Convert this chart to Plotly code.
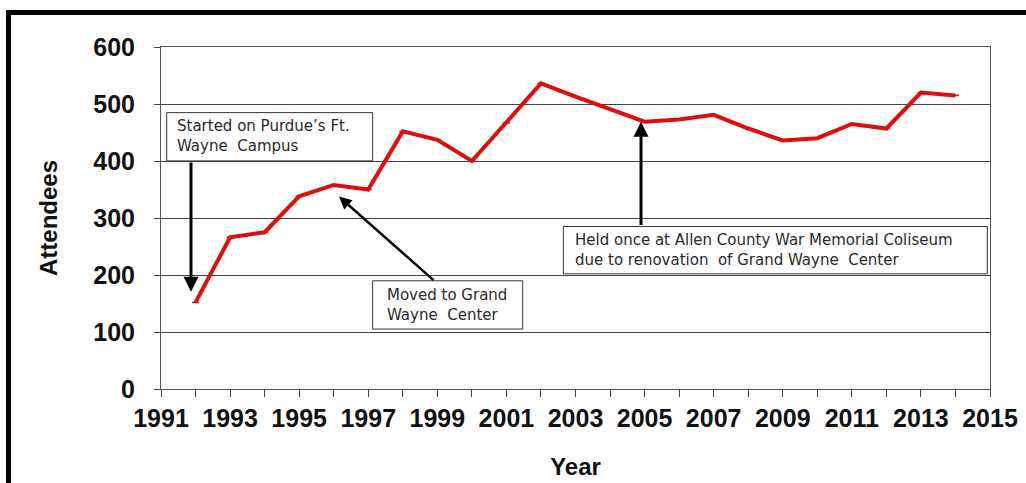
import plotly.graph_objects as go

years = list(range(1992, 2015))
attendees = [152, 266, 275, 338, 358, 350, 452, 437, 400, 467, 536, 513, 491, 469, 473, 481, 457, 436, 440, 465, 457, 520, 515]

notes = [
    "Started on Purdue’s Ft.<br>Wayne  Campus",
    "Moved to Grand<br>Wayne  Center",
    "Held once at Allen County War Memorial Coliseum<br>due to renovation  of Grand Wayne  Center",
]

W, H = 1026, 483
L, R, T, B = 161, 990, 47, 389.3
xr = (1991, 2015)
yr = (0, 600)

def dx(px):
    return xr[0] + (px - L) / (R - L) * (xr[1] - xr[0])

def dy(py):
    return yr[0] + (B - py) / (B - T) * (yr[1] - yr[0])

def px_(px):
    return (px - L) / (R - L)

def py_(py):
    return (B - py) / (B - T)

fig = go.Figure()
fig.add_trace(go.Scatter(
    x=years, y=attendees, mode="lines+markers",
    line=dict(color="#e00d0d", width=4),
    marker=dict(symbol="line-ew", size=5, color="#e00d0d", line=dict(width=1.5, color="#e00d0d")),
    showlegend=False, hoverinfo="x+y",
))

shapes = []
# outer frame (top and left bars)
shapes.append(dict(type="rect", xref="paper", yref="paper",
                   x0=px_(6), x1=px_(1040), y0=py_(15), y1=py_(10),
                   fillcolor="black", line=dict(width=0), layer="above"))
shapes.append(dict(type="rect", xref="paper", yref="paper",
                   x0=px_(6), x1=px_(11), y0=py_(500), y1=py_(10),
                   fillcolor="black", line=dict(width=0), layer="above"))

boxes = [
    (166.7, 372.7, 112.7, 161.0),
    (372.7, 522.7, 281.0, 329.3),
    (563.3, 987.3, 226.7, 274.0),
]
for (x0, x1, y0, y1) in boxes:
    shapes.append(dict(type="rect", xref="x", yref="y",
                       x0=dx(x0), x1=dx(x1), y0=dy(y1), y1=dy(y0),
                       fillcolor="white", line=dict(color="#333333", width=1), layer="above"))

annotations = []
text_pos = [(175, 136.5), (385, 305.5), (573, 250.5)]
for t, (tx, ty) in zip(notes, text_pos):
    annotations.append(dict(x=dx(tx), y=dy(ty), xref="x", yref="y", text=t,
                            showarrow=False, xanchor="left", yanchor="middle", align="left",
                            font=dict(family="DejaVu Sans", size=15, color="#2a2a2a")))

arrows = [
    ((191, 292), (191, 161), 3),
    ((339, 196.7), (435, 281.7), 2.5),
    ((641, 121.7), (641, 226.7), 3),
]
for (hx, hy), (tx, ty), w in arrows:
    annotations.append(dict(x=dx(hx), y=dy(hy), ax=dx(tx), ay=dy(ty), xref="x", yref="y",
                            axref="x", ayref="y", text="", showarrow=True,
                            arrowhead=2, arrowsize=1.0, arrowwidth=w, arrowcolor="black",
                            standoff=0, startstandoff=0))

fig.update_layout(
    width=W, height=H,
    margin=dict(l=L, r=W - R, t=T, b=H - B),
    paper_bgcolor="white", plot_bgcolor="white",
    shapes=shapes, annotations=annotations,
    font=dict(family="Liberation Sans", color="black"),
)
fig.update_xaxes(
    range=list(xr), tickmode="linear", tick0=1991, dtick=2,
    ticks="outside", ticklen=7, tickcolor="#444", showgrid=False,
    showline=True, linecolor="#555", linewidth=1, mirror=True,
    tickfont=dict(family="Liberation Sans", size=25, weight="bold", color="#111"),
    minor=dict(dtick=1, ticks="outside", ticklen=7, tickcolor="#444", showgrid=False),
    title=dict(text="Year", font=dict(family="Liberation Sans", size=24, weight="bold", color="#111"), standoff=27),
    zeroline=False, automargin=False,
)
fig.update_yaxes(
    range=list(yr), tickmode="linear", tick0=0, dtick=100,
    ticks="outside", ticklen=6, tickcolor="#444",
    showgrid=True, gridcolor="#444", gridwidth=1,
    showline=True, linecolor="#555", linewidth=1, mirror=True,
    tickfont=dict(family="Liberation Sans", size=25, weight="bold", color="#111"),
    ticklabelstandoff=14,
    title=dict(text="Attendees", font=dict(family="Liberation Sans", size=24, weight="bold", color="#111"), standoff=28),
    zeroline=False, automargin=False,
)

fig.write_html("out.html", config={"displayModeBar": False},
               post_script="document.body.style.margin='0';document.body.style.overflow='hidden';")
